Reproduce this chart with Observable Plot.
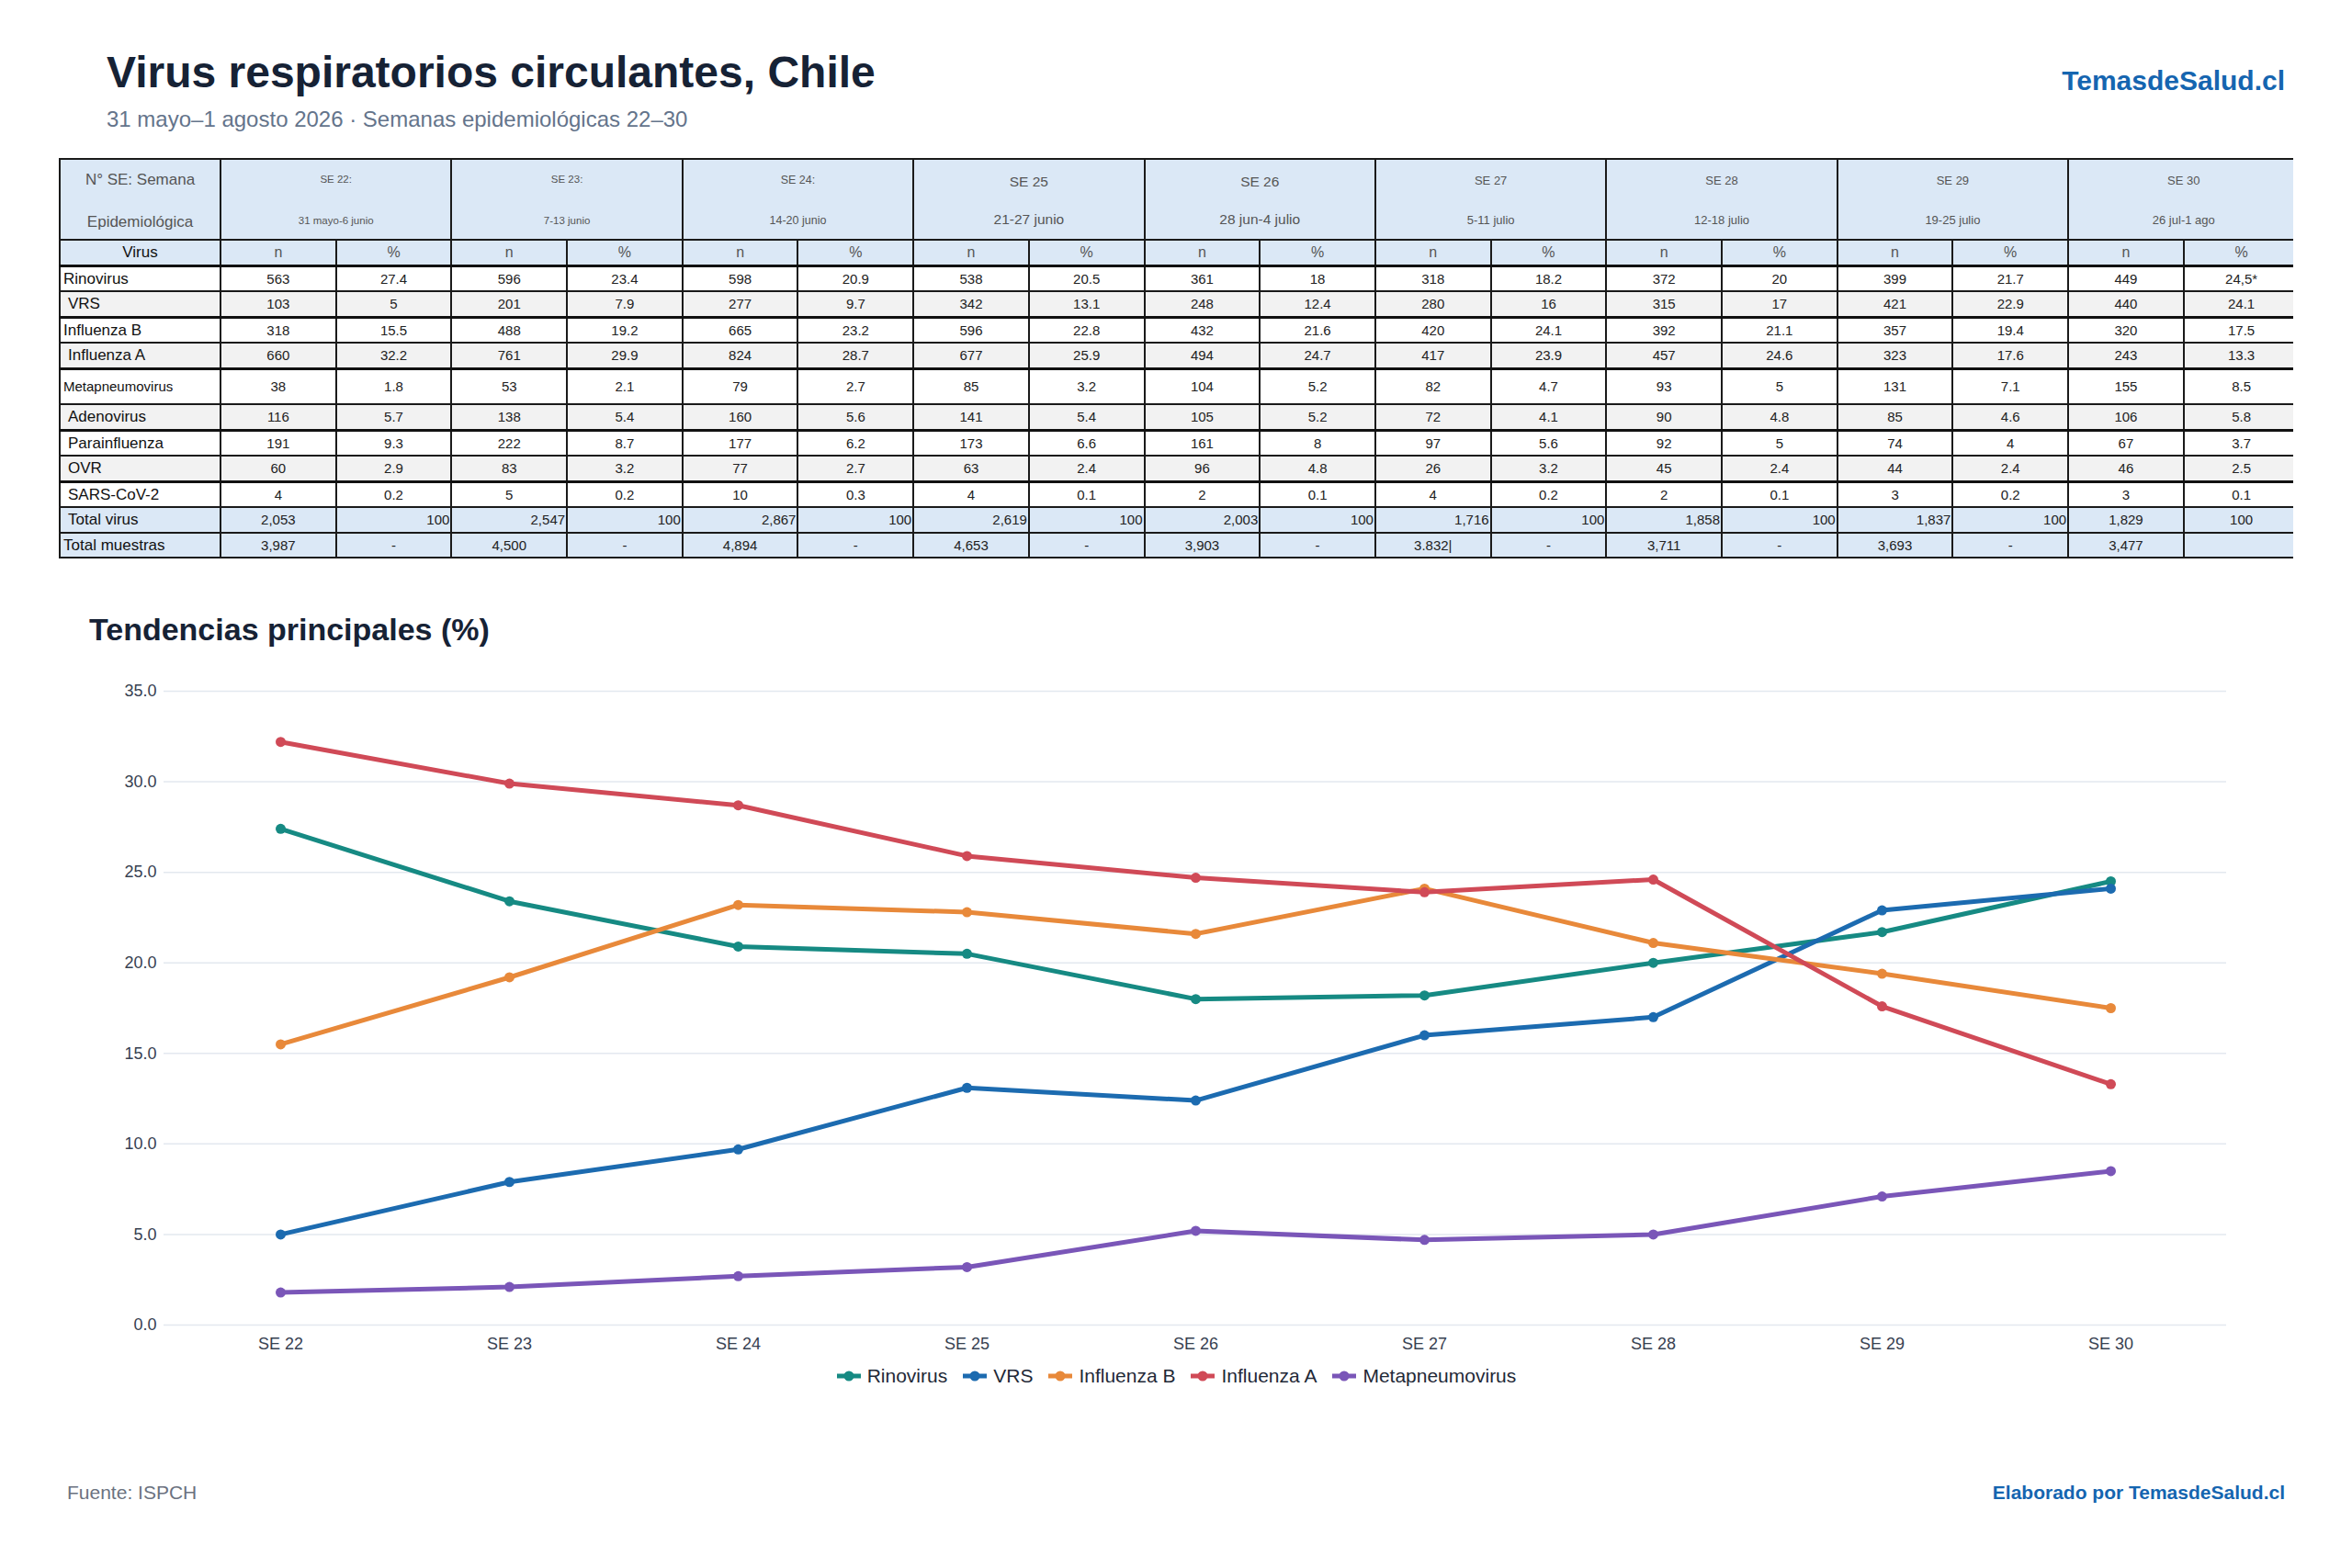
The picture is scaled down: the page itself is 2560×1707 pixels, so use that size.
<!DOCTYPE html>
<html lang="es">
<head>
<meta charset="utf-8">
<script src="https://cdn.jsdelivr.net/npm/d3@7"></script>
<script src="https://cdn.jsdelivr.net/npm/@observablehq/plot@0.6"></script>
<style>
  body { margin:0; background:#fff; font-family:"Liberation Sans", Arial, Helvetica, sans-serif; }
  #page { position:relative; width:2560px; height:1707px; overflow:hidden; background:#fff; }
  .abs { position:absolute; white-space:nowrap; line-height:1; }
  #title { left:116px; top:55px; font-size:48px; font-weight:700; color:#162235; }
  #subtitle { left:116px; top:118px; font-size:24px; color:#64748b; }
  #brand { right:73px; top:73px; font-size:30px; font-weight:700; color:#1565b0; }
  #tablewrap { left:64px; top:172px; width:2432px; overflow:hidden; }
  table { border-collapse:collapse; table-layout:fixed; width:2437px; }
  td { padding:0; text-align:center; color:#222; font-size:15px; border:2px solid #1a1a1a; overflow:hidden; white-space:nowrap; line-height:1; }
  tr.hdr td { background:#dbe8f6; color:#555; height:86px; }
  tr.sub td { background:#dbe8f6; color:#555; font-size:16px; height:25.5px; }
  tr.sub td.lab { color:#111; font-size:17px; }
  tr.row td { height:25.5px; }
  tr.row.tall td { height:36.5px; }
  tr.row.white td { background:#fff; border-top:3px solid #111; }
  tr.row.grey td { background:#f2f2f2; border-top:2px solid #555; }
  tr.tot td { background:#dbe8f6; height:25.5px; border-top:2px solid #333; }
  td.lab { text-align:left; color:#111; font-size:17px; padding-left:3px; }
  td.lab.ind { padding-left:8px; }
  td.lab.small { font-size:15px; }
  td.r { text-align:right; padding-right:1px; }
  .hcell { display:flex; flex-direction:column; justify-content:space-between; align-items:center; height:86px; box-sizing:border-box; padding:16px 0 14px 0; }
  .hcell.first { color:#555; font-size:17px; padding:13px 0 10px 0; }
  #charttitle { left:97px; top:668px; font-size:34px; font-weight:700; color:#162235; }
  #chart { left:0; top:720px; }
  #legend { left:0; top:1483px; width:2560px; text-align:center; font-size:21px; color:#1f2937; line-height:30px; }
  .li { display:inline-flex; align-items:center; margin:0 8px; }
  .li svg { margin-right:6px; }
  #source { left:73px; top:1614px; font-size:21px; color:#6b7280; }
  #credit { right:73px; top:1614px; font-size:21px; font-weight:700; color:#1565b0; }
</style>
</head>
<body>
<div id="page">
  <div class="abs" id="title">Virus respiratorios circulantes, Chile</div>
  <div class="abs" id="subtitle">31 mayo–1 agosto 2026 · Semanas epidemiológicas 22–30</div>
  <div class="abs" id="brand">TemasdeSalud.cl</div>
  <div class="abs" id="tablewrap"></div>
  <div class="abs" id="charttitle">Tendencias principales (%)</div>
  <div class="abs" id="chart"></div>
  <div class="abs" id="legend"></div>
  <div class="abs" id="source">Fuente: ISPCH</div>
  <div class="abs" id="credit">Elaborado por TemasdeSalud.cl</div>
</div>
<script>
// ---------- DATA ----------
const weeks = ["SE 22","SE 23","SE 24","SE 25","SE 26","SE 27","SE 28","SE 29","SE 30"];
const weekHeaders = ["SE 22:","SE 23:","SE 24:","SE 25","SE 26","SE 27","SE 28","SE 29","SE 30"];
const weekDates = ["31 mayo-6 junio","7-13 junio","14-20 junio","21-27 junio","28 jun-4 julio","5-11 julio","12-18 julio","19-25 julio","26 jul-1 ago"];

const virusNames = ["Rinovirus","VRS","Influenza B","Influenza A","Metapneumovirus","Adenovirus","Parainfluenza","OVR","SARS-CoV-2"];

const rinovirusN   = [563, 596, 598, 538, 361, 318, 372, 399, 449];
const rinovirusPct = [27.4, 23.4, 20.9, 20.5, 18, 18.2, 20, 21.7, 24.5];
const vrsN         = [103, 201, 277, 342, 248, 280, 315, 421, 440];
const vrsPct       = [5, 7.9, 9.7, 13.1, 12.4, 16, 17, 22.9, 24.1];
const fluBN        = [318, 488, 665, 596, 432, 420, 392, 357, 320];
const fluBPct      = [15.5, 19.2, 23.2, 22.8, 21.6, 24.1, 21.1, 19.4, 17.5];
const fluAN        = [660, 761, 824, 677, 494, 417, 457, 323, 243];
const fluAPct      = [32.2, 29.9, 28.7, 25.9, 24.7, 23.9, 24.6, 17.6, 13.3];
const metapN       = [38, 53, 79, 85, 104, 82, 93, 131, 155];
const metapPct     = [1.8, 2.1, 2.7, 3.2, 5.2, 4.7, 5, 7.1, 8.5];
const adenoN       = [116, 138, 160, 141, 105, 72, 90, 85, 106];
const adenoPct     = [5.7, 5.4, 5.6, 5.4, 5.2, 4.1, 4.8, 4.6, 5.8];
const paraN        = [191, 222, 177, 173, 161, 97, 92, 74, 67];
const paraPct      = [9.3, 8.7, 6.2, 6.6, 8, 5.6, 5, 4, 3.7];
const ovrN         = [60, 83, 77, 63, 96, 26, 45, 44, 46];
const ovrPct       = [2.9, 3.2, 2.7, 2.4, 4.8, 3.2, 2.4, 2.4, 2.5];
const sarsN        = [4, 5, 10, 4, 2, 4, 2, 3, 3];
const sarsPct      = [0.2, 0.2, 0.3, 0.1, 0.1, 0.2, 0.1, 0.2, 0.1];

const totalVirus    = [2053, 2547, 2867, 2619, 2003, 1716, 1858, 1837, 1829];
const totalVirusPct = [100, 100, 100, 100, 100, 100, 100, 100, 100];
const totalMuestras = ["3,987","4,500","4,894","4,653","3,903","3.832|","3,711","3,693","3,477"];
const totalMuestrasPct = ["-","-","-","-","-","-","-","-",""];
const pctTextOverrides = {"Rinovirus|SE 30": "24,5*"};

const chartSeries = ["Rinovirus","VRS","Influenza B","Influenza A","Metapneumovirus"];
const seriesColors = ["#168a83","#1c6bb0","#e8893a","#d04a57","#7a56b8"];
const yTicks = [0, 5, 10, 15, 20, 25, 30, 35];

// ---------- STYLE CONFIG ----------
const headerFontSizes = [11.5, 11.5, 12.5, 15.5, 15.5, 13, 13, 13, 13];
const indentedRows = new Set(["VRS","Influenza A","Adenovirus","Parainfluenza","OVR","SARS-CoV-2","Total virus"]);
const totalVirusAlign = ["c","r","r","r","r","r","r","r","c"];
const totalPctAlign   = ["r","r","r","r","r","r","r","r","c"];

// ---------- TABLE ----------
const nByName = [rinovirusN, vrsN, fluBN, fluAN, metapN, adenoN, paraN, ovrN, sarsN];
const pctByName = [rinovirusPct, vrsPct, fluBPct, fluAPct, metapPct, adenoPct, paraPct, ovrPct, sarsPct];
const fmt = d3.format(",");

let html = "<table><colgroup><col style='width:175px'>";
for (let i = 0; i < weeks.length * 2; i++) html += "<col style='width:125.7px'>";
html += "</colgroup>";
html += "<tr class='hdr'><td><div class='hcell first'><span>N° SE: Semana</span><span>Epidemiológica</span></div></td>";
weeks.forEach((w, i) => {
  html += `<td colspan='2'><div class='hcell' style='font-size:${headerFontSizes[i]}px'><span>${weekHeaders[i]}</span><span>${weekDates[i]}</span></div></td>`;
});
html += "</tr>";
html += "<tr class='sub'><td class='lab' style='text-align:center;padding:0'>Virus</td>";
weeks.forEach(() => { html += "<td>n</td><td>%</td>"; });
html += "</tr>";
virusNames.forEach((name, r) => {
  const cls = ["row", r % 2 === 0 ? "white" : "grey", name === "Metapneumovirus" ? "tall" : ""].join(" ");
  const labCls = ["lab", indentedRows.has(name) ? "ind" : "", name === "Metapneumovirus" ? "small" : ""].join(" ");
  html += `<tr class='${cls}'><td class='${labCls}'>${name}</td>`;
  weeks.forEach((w, i) => {
    const pt = pctTextOverrides[name + "|" + w] ?? String(pctByName[r][i]);
    html += `<td>${nByName[r][i]}</td><td>${pt}</td>`;
  });
  html += "</tr>";
});
html += "<tr class='tot'><td class='lab ind'>Total virus</td>";
weeks.forEach((w, i) => {
  html += `<td class='${totalVirusAlign[i] === "r" ? "r" : ""}'>${fmt(totalVirus[i])}</td><td class='${totalPctAlign[i] === "r" ? "r" : ""}'>${totalVirusPct[i]}</td>`;
});
html += "</tr>";
html += "<tr class='tot'><td class='lab'>Total muestras</td>";
weeks.forEach((w, i) => { html += `<td>${totalMuestras[i]}</td><td>${totalMuestrasPct[i]}</td>`; });
html += "</tr></table>";
document.getElementById("tablewrap").innerHTML = html;

// ---------- CHART ----------
const chartPct = {Rinovirus: rinovirusPct, VRS: vrsPct, "Influenza B": fluBPct, "Influenza A": fluAPct, Metapneumovirus: metapPct};
const chartData = chartSeries.flatMap(name => weeks.map((w, i) => ({virus: name, week: w, value: chartPct[name][i]})));

const plot = Plot.plot({
  width: 2560,
  height: 762,
  marginTop: 32,
  marginBottom: 40,
  marginLeft: 178,
  marginRight: 137,
  style: {fontFamily: '"Liberation Sans", Arial, sans-serif', fontSize: "18px", color: "#374151", background: "transparent"},
  x: {type: "point", domain: weeks, padding: 0.5, label: null},
  y: {domain: [0, 35], label: null},
  color: {domain: chartSeries, range: seriesColors},
  marks: [
    Plot.gridY(yTicks, {stroke: "#e3e8ef", strokeOpacity: 1, strokeWidth: 1.5}),
    Plot.axisY(yTicks, {tickSize: 0, tickPadding: 8, tickFormat: d3.format(".1f"), label: null}),
    Plot.axisX({tickSize: 0, tickPadding: 14, label: null}),
    Plot.line(chartData, {x: "week", y: "value", stroke: "virus", z: "virus", strokeWidth: 5, strokeLinejoin: "round", strokeLinecap: "round"}),
    Plot.dot(chartData, {x: "week", y: "value", fill: "virus", r: 5.5})
  ]
});
document.getElementById("chart").appendChild(plot);

const legend = document.getElementById("legend");
chartSeries.forEach((name, i) => {
  const c = seriesColors[i];
  const item = document.createElement("span");
  item.className = "li";
  item.innerHTML = `<svg width="28" height="14"><line x1="1" y1="7" x2="27" y2="7" stroke="${c}" stroke-width="5"/><circle cx="14" cy="7" r="5.5" fill="${c}"/></svg>${name}`;
  legend.appendChild(item);
});
</script>
</body>
</html>
